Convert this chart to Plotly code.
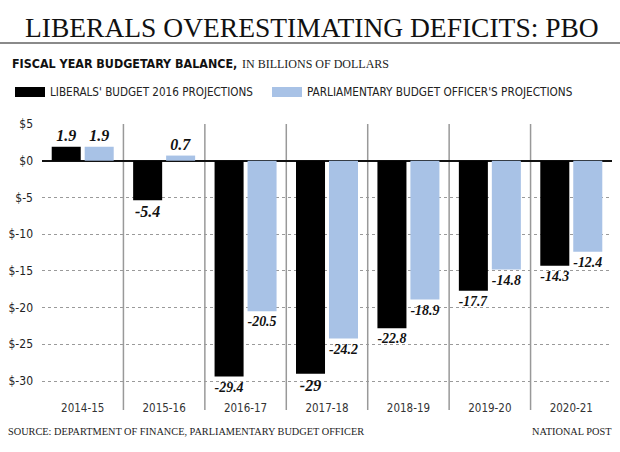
import plotly.graph_objects as go

categories = ["2014-15", "2015-16", "2016-17", "2017-18", "2018-19", "2019-20", "2020-21"]
liberals = [1.9, -5.4, -29.4, -29, -22.8, -17.7, -14.3]
pbo = [1.9, 0.7, -20.5, -24.2, -18.9, -14.8, -12.4]
liberals_labels = ["1.9", "-5.4", "-29.4", "-29", "-22.8", "-17.7", "-14.3"]
pbo_labels = ["1.9", "0.7", "-20.5", "-24.2", "-18.9", "-14.8", "-12.4"]
y_ticks = [5, 0, -5, -10, -15, -20, -25, -30]
y_ticktext = ["$5", "$0", "$-5", "$-10", "$-15", "$-20", "$-25", "$-30"]

BLACK = "#000000"
BLUE = "#a8c2e6"
SANS_N = "Liberation Sans Narrow, DejaVu Sans Condensed, Roboto, sans-serif"
SERIF = "Liberation Serif, DejaVu Serif, serif"

W, H = 620, 452
L, R, T, B = 42, 612, 124, 398
PW, PH = R - L, B - T


def px(x):
    return (x - L) / PW


def py(y):
    return (B - y) / PH


xs = list(range(len(categories)))

fig = go.Figure()
fig.add_trace(go.Bar(
    x=xs, y=liberals, name="LIBERALS' BUDGET 2016 PROJECTIONS",
    marker=dict(color=BLACK, line=dict(width=0)),
    text=liberals_labels, textposition="outside", cliponaxis=False,
    textfont=dict(family=SERIF, size=16, color="#111", style="italic", weight="bold"),
    showlegend=False,
))
fig.add_trace(go.Bar(
    x=xs, y=pbo, name="PARLIAMENTARY BUDGET OFFICER'S PROJECTIONS",
    marker=dict(color=BLUE, line=dict(width=0)),
    text=pbo_labels, textposition="outside", cliponaxis=False,
    textfont=dict(family=SERIF, size=16, color="#111", style="italic", weight="bold"),
    showlegend=False,
))

shapes = []
for i in range(len(categories) - 1):
    shapes.append(dict(type="line", xref="x", yref="paper", x0=i + 0.5, x1=i + 0.5,
                       y0=py(410), y1=1, line=dict(color="#999999", width=1.5), layer="below"))
shapes.append(dict(type="line", xref="paper", yref="paper", x0=px(0), x1=px(620),
                   y0=py(43), y1=py(43), line=dict(color="#8a8a8a", width=2)))
shapes.append(dict(type="rect", xref="paper", yref="paper", x0=px(15), x1=px(45),
                   y0=py(97), y1=py(87), fillcolor=BLACK, line=dict(width=0)))
shapes.append(dict(type="rect", xref="paper", yref="paper", x0=px(272), x1=px(302),
                   y0=py(97), y1=py(87), fillcolor=BLUE, line=dict(width=0)))

annotations = [
    dict(text="LIBERALS OVERESTIMATING DEFICITS: PBO", xref="paper", yref="paper",
         x=px(312), y=py(27), xanchor="center", yanchor="middle", showarrow=False,
         font=dict(family=SERIF, size=27.5, color="#111")),
    dict(text="<b>FISCAL YEAR BUDGETARY BALANCE,</b>", xref="paper", yref="paper",
         x=px(10), y=py(63), xanchor="left", yanchor="middle", showarrow=False,
         font=dict(family=SANS_N, size=12.4, color="#111")),
    dict(text="IN BILLIONS OF DOLLARS", xref="paper", yref="paper",
         x=px(240), y=py(64), xanchor="left", yanchor="middle", showarrow=False,
         font=dict(family=SERIF, size=12, color="#222")),
    dict(text="LIBERALS' BUDGET 2016 PROJECTIONS", xref="paper", yref="paper",
         x=px(48), y=py(92), xanchor="left", yanchor="middle", showarrow=False,
         font=dict(family=SANS_N, size=11.6, color="#222")),
    dict(text="PARLIAMENTARY BUDGET OFFICER'S PROJECTIONS", xref="paper", yref="paper",
         x=px(305), y=py(92), xanchor="left", yanchor="middle", showarrow=False,
         font=dict(family=SANS_N, size=11.7, color="#222")),
    dict(text="SOURCE: DEPARTMENT OF FINANCE, PARLIAMENTARY BUDGET OFFICER", xref="paper", yref="paper",
         x=px(6), y=py(431), xanchor="left", yanchor="middle", showarrow=False,
         font=dict(family=SERIF, size=10.3, color="#222")),
    dict(text="NATIONAL POST", xref="paper", yref="paper",
         x=px(614), y=py(431), xanchor="right", yanchor="middle", showarrow=False,
         font=dict(family=SERIF, size=10.3, color="#222")),
]

y_bottom = 5 - (B - T) / ((381 - 124) / 35)

fig.update_layout(
    width=W, height=H,
    margin=dict(l=L, r=W - R, t=T, b=H - B, pad=0),
    paper_bgcolor="white", plot_bgcolor="white",
    barmode="group", bargap=0.19, bargroupgap=0.12,
    shapes=shapes, annotations=annotations,
    xaxis=dict(range=[-0.5, 6.5], tickvals=xs, ticktext=categories, showgrid=False,
               zeroline=False, showline=False, ticks="",
               tickfont=dict(family=SANS_N, size=11.5, color="#333"), ticklabelstandoff=1),
    yaxis=dict(range=[y_bottom, 5], tickvals=y_ticks, ticktext=y_ticktext,
               showgrid=True, gridcolor="#9a9a9a", griddash="dot", gridwidth=1,
               zeroline=True, zerolinecolor="#111", zerolinewidth=2,
               showline=False, ticks="",
               tickfont=dict(family=SANS_N, size=12, color="#222"), ticklabelstandoff=8),
)

fig.write_html("out.html")
